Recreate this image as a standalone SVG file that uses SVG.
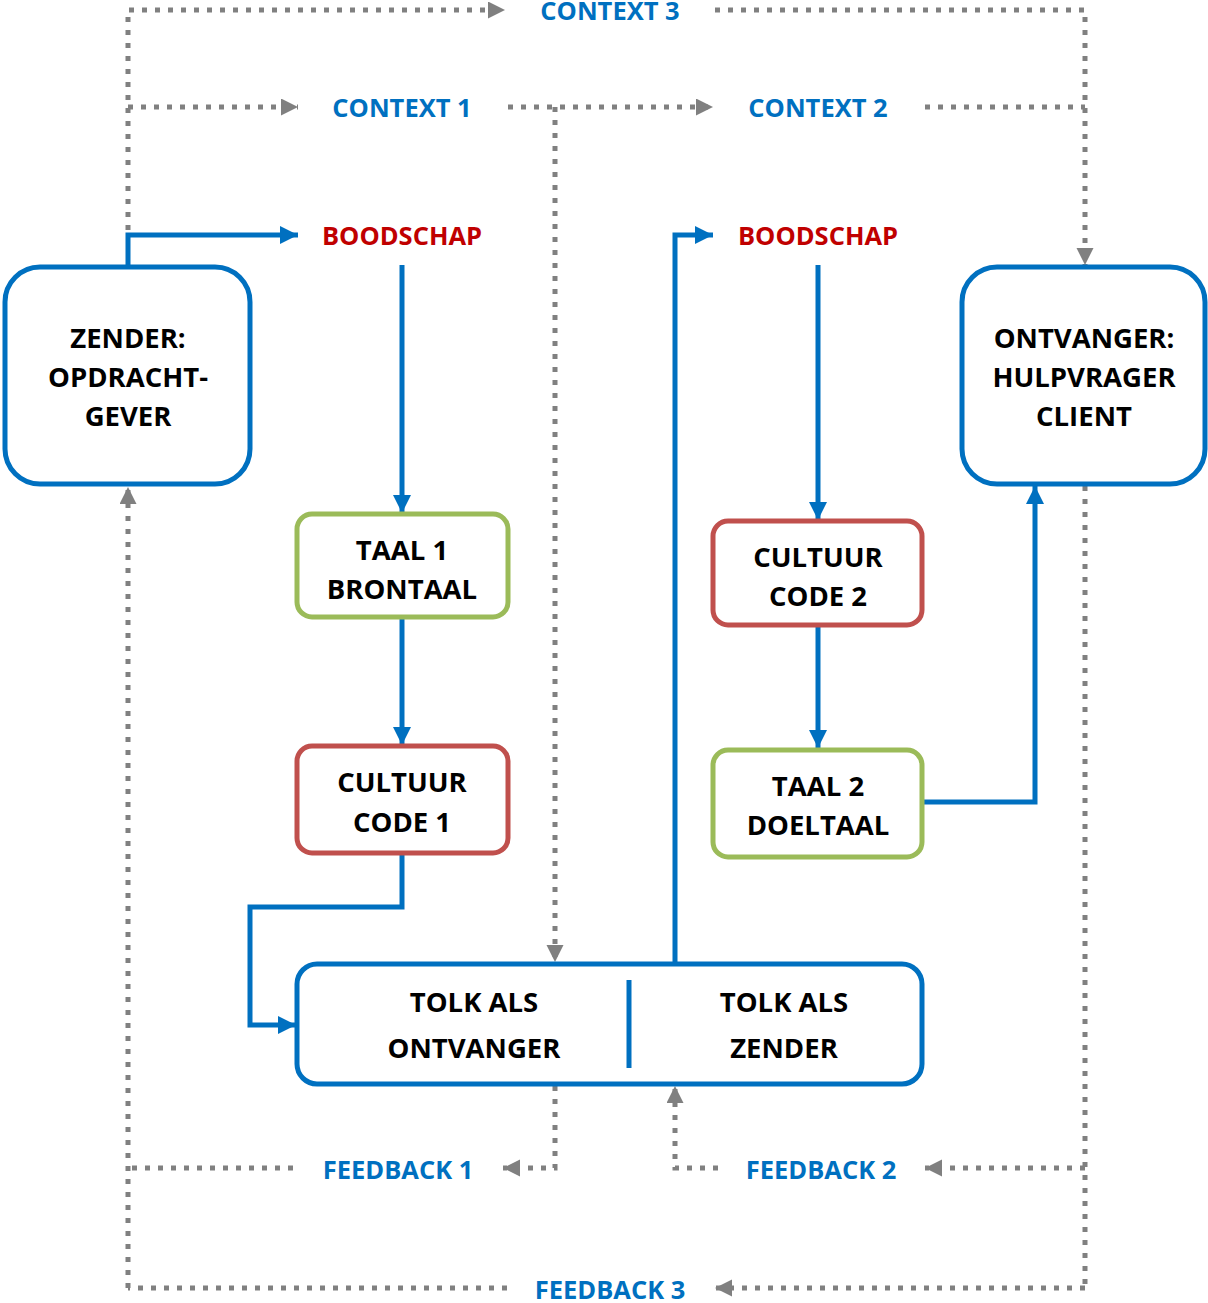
<svg xmlns="http://www.w3.org/2000/svg" width="1208" height="1303" viewBox="0 0 1208 1303">
<defs>
<style>
.box{fill:#fff;stroke-width:5}
.blue{stroke:#0070C0}
.green{stroke:#9BBB59}
.red{stroke:#C0504D}
.t{font-family:"Open Sans","Liberation Sans",sans-serif;font-weight:700;font-size:27.5px;fill:#000;text-anchor:middle}
.lbl{font-family:"Open Sans","Liberation Sans",sans-serif;font-weight:700;font-size:25.5px;fill:#0070C0;text-anchor:middle}
.msg{fill:#C00000}
.bl{fill:none;stroke:#0070C0;stroke-width:5}
.gr{fill:none;stroke:#808080;stroke-width:5;stroke-dasharray:5 8}
</style>
<marker id="ab" markerUnits="userSpaceOnUse" markerWidth="20" markerHeight="20" refX="18" refY="9" orient="auto"><path d="M0,0 L18,9 L0,18 z" fill="#0070C0"/></marker>
<marker id="ag" markerUnits="userSpaceOnUse" markerWidth="20" markerHeight="20" refX="17" refY="8.5" orient="auto"><path d="M0,0 L17,8.5 L0,17 z" fill="#808080"/></marker>
</defs>
<rect width="1208" height="1303" fill="#fff"/>
<g id="connectors">
<path class="gr" d="M128,230 V10 H505" marker-end="url(#ag)"/>
<path class="gr" d="M715,10 H1085 V265" marker-end="url(#ag)"/>
<path class="gr" d="M128,107 H298" marker-end="url(#ag)"/>
<path class="gr" d="M508,107 H713" marker-end="url(#ag)"/>
<path class="gr" d="M555,107 V962" marker-end="url(#ag)"/>
<path class="gr" d="M925,107 H1085"/>
<path class="gr" d="M555,1086 V1168 H503" marker-end="url(#ag)"/>
<path class="gr" d="M293,1168 H128"/>
<path class="gr" d="M128,1288 V487" marker-end="url(#ag)"/>
<path class="gr" d="M1085,486 V1288"/>
<path class="gr" d="M1085,1168 H925" marker-end="url(#ag)"/>
<path class="gr" d="M718,1168 H675 V1086" marker-end="url(#ag)"/>
<path class="gr" d="M1085,1288 H715" marker-end="url(#ag)"/>
<path class="gr" d="M507,1288 H128"/>
<path class="bl" d="M128,267 V235 H298" marker-end="url(#ab)"/>
<path class="bl" d="M402,265 V513" marker-end="url(#ab)"/>
<path class="bl" d="M402,618 V745" marker-end="url(#ab)"/>
<path class="bl" d="M402,853 V907 H250 V1025 H296" marker-end="url(#ab)"/>
<path class="bl" d="M675,963 V235 H713" marker-end="url(#ab)"/>
<path class="bl" d="M818,265 V520" marker-end="url(#ab)"/>
<path class="bl" d="M818,626 V748" marker-end="url(#ab)"/>
<path class="bl" d="M922,802 H1035 V486" marker-end="url(#ab)"/>
</g>
<g id="labels">
<text class="lbl" x="610" y="20">CONTEXT 3</text>
<text class="lbl" x="402" y="117">CONTEXT 1</text>
<text class="lbl" x="818" y="117">CONTEXT 2</text>
<text class="lbl msg" x="402" y="245">BOODSCHAP</text>
<text class="lbl msg" x="818" y="245">BOODSCHAP</text>
<text class="lbl" x="398" y="1179">FEEDBACK 1</text>
<text class="lbl" x="821" y="1179">FEEDBACK 2</text>
<text class="lbl" x="610" y="1299">FEEDBACK 3</text>
</g>
<g id="zender">
<rect class="box blue" x="5" y="267" width="245" height="217" rx="35"/>
<text class="t" x="128" y="348">ZENDER:</text>
<text class="t" x="128" y="387">OPDRACHT-</text>
<text class="t" x="128" y="426">GEVER</text>
</g>
<g id="ontvanger">
<rect class="box blue" x="962" y="267" width="243" height="217" rx="35"/>
<text class="t" x="1084" y="348">ONTVANGER:</text>
<text class="t" x="1084" y="387">HULPVRAGER</text>
<text class="t" x="1084" y="426">CLIENT</text>
</g>
<g id="taal1">
<rect class="box green" x="297" y="514" width="211" height="103" rx="15"/>
<text class="t" x="402" y="560">TAAL 1</text>
<text class="t" x="402" y="599">BRONTAAL</text>
</g>
<g id="cultuur1">
<rect class="box red" x="297" y="746" width="211" height="107" rx="15"/>
<text class="t" x="402" y="792">CULTUUR</text>
<text class="t" x="402" y="832">CODE 1</text>
</g>
<g id="cultuur2">
<rect class="box red" x="713" y="521" width="209" height="104" rx="15"/>
<text class="t" x="818" y="567">CULTUUR</text>
<text class="t" x="818" y="606">CODE 2</text>
</g>
<g id="taal2">
<rect class="box green" x="713" y="750" width="209" height="107" rx="15"/>
<text class="t" x="818" y="796">TAAL 2</text>
<text class="t" x="818" y="835">DOELTAAL</text>
</g>
<g id="tolk">
<rect class="box blue" x="297" y="964" width="625" height="120" rx="20"/>
<line x1="629" y1="980" x2="629" y2="1068" stroke="#0070C0" stroke-width="5"/>
<text class="t" x="474" y="1012">TOLK ALS</text>
<text class="t" x="474" y="1058">ONTVANGER</text>
<text class="t" x="784" y="1012">TOLK ALS</text>
<text class="t" x="784" y="1058">ZENDER</text>
</g>
</svg>
